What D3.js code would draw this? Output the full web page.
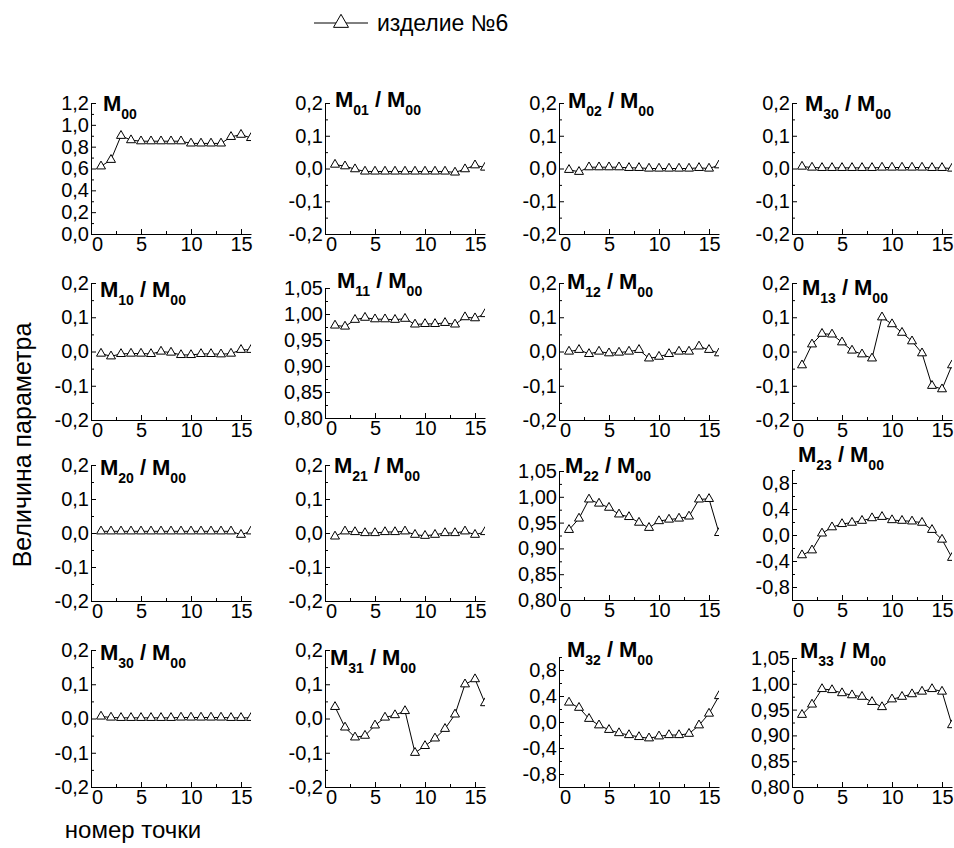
<!DOCTYPE html>
<html><head><meta charset="utf-8">
<script src="https://cdn.jsdelivr.net/npm/d3@7"></script>
<style>body{margin:0;background:#fff}svg text{font-family:"Liberation Sans",Arial,sans-serif}</style>
</head><body><svg id="c" width="954" height="848"></svg>
<script>
// ---------- data ----------
const pointNumbers = [1,2,3,4,5,6,7,8,9,10,11,12,13,14,15,16];
const seriesName = "изделие №6";
const panelTitles = [["00",null],["01","00"],["02","00"],["30","00"],
                     ["10","00"],["11","00"],["12","00"],["13","00"],
                     ["20","00"],["21","00"],["22","00"],["23","00"],
                     ["30","00"],["31","00"],["32","00"],["33","00"]];
const m00 = [0.62,0.68,0.90,0.86,0.85,0.85,0.85,0.85,0.85,0.83,0.83,0.83,0.83,0.89,0.91,0.88];
const m01 = [0.012,0.007,-0.002,-0.009,-0.009,-0.009,-0.009,-0.009,-0.009,-0.009,-0.009,-0.009,-0.012,-0.002,0.010,0.003];
const m02 = [-0.004,-0.010,0.004,0.004,0.004,0.004,0.002,0.002,0.000,0.000,0.000,0.000,0.000,0.002,0.000,0.010];
const m03 = [0.006,0.003,0.002,0.002,0.002,0.002,0.002,0.002,0.003,0.003,0.003,0.003,0.003,0.002,0.002,0.000];
const m10 = [-0.006,-0.014,-0.007,-0.006,-0.006,-0.007,0.000,-0.003,-0.010,-0.010,-0.007,-0.007,-0.008,-0.006,0.005,0.005];
const m11 = [0.978,0.976,0.989,0.993,0.990,0.990,0.989,0.991,0.980,0.981,0.981,0.983,0.980,0.994,0.992,1.000];
const m12 = [0.000,0.005,-0.007,0.000,-0.005,-0.003,0.000,0.005,-0.020,-0.015,-0.007,0.000,0.000,0.015,0.005,-0.005];
const m13 = [-0.040,0.021,0.052,0.050,0.027,0.003,-0.008,-0.020,0.100,0.080,0.055,0.030,-0.005,-0.100,-0.110,-0.040];
const m20 = [0.005,0.005,0.005,0.005,0.005,0.005,0.005,0.005,0.005,0.005,0.005,0.005,0.005,0.005,-0.005,0.005];
const m21 = [-0.010,0.005,0.003,0.000,0.000,0.003,0.003,0.005,-0.005,-0.008,-0.005,0.000,0.000,0.005,-0.005,0.003];
const m22 = [0.936,0.958,0.995,0.987,0.979,0.966,0.961,0.950,0.940,0.953,0.956,0.958,0.962,0.995,0.996,0.930];
const m23 = [-0.31,-0.235,0.025,0.12,0.17,0.19,0.22,0.26,0.28,0.23,0.22,0.21,0.19,0.08,-0.07,-0.35];
const m30 = [0.006,0.003,0.002,0.002,0.002,0.002,0.002,0.002,0.003,0.003,0.003,0.003,0.003,0.002,0.002,0.002];
const m31 = [0.034,-0.026,-0.055,-0.050,-0.020,0.003,0.010,0.022,-0.100,-0.080,-0.058,-0.030,0.012,0.100,0.115,0.045];
const m32 = [0.30,0.22,0.05,-0.05,-0.12,-0.17,-0.20,-0.23,-0.25,-0.22,-0.20,-0.20,-0.18,-0.05,0.13,0.40];
const m33 = [0.940,0.960,0.990,0.988,0.982,0.978,0.975,0.965,0.955,0.970,0.975,0.980,0.985,0.990,0.985,0.920];
const allSeries = [m00,m01,m02,m03,m10,m11,m12,m13,m20,m21,m22,m23,m30,m31,m32,m33];

const xTicks = [0,5,10,15];
const xMinor = [2.5,7.5,12.5];
const ticksSmall = [-0.2,-0.1,0,0.1,0.2];
const ticksM00 = [0,0.2,0.4,0.6,0.8,1.0,1.2];
const ticksDiag = [0.80,0.85,0.90,0.95,1.00,1.05];
const ticksWide = [-0.8,-0.4,0,0.4,0.8];

// ---------- layout ----------
const colX = [91,325,559,792];
const plotW = 160;
const panelKind = ["m00","s","s","s","s","d","s","s","s","s","d","w","s","s","w","d"];
const rowTopBottom = [[103,234],[283,420],[465,601],[650,787]];
const kinds = {
  m00:{domain:[0,1.2],ticks:ticksM00,minorStep:0.1,fmt:d3.format(".1f")},
  s:{domain:[-0.2,0.2],ticks:ticksSmall,minorStep:0.05,fmt:d3.format(".1f")},
  d:{domain:[0.80,1.05],ticks:ticksDiag,minorStep:0.025,fmt:d3.format(".2f")},
  w:{domain:[-1.0,1.0],ticks:ticksWide,minorStep:0.2,fmt:d3.format(".1f")}
};
const override = {5:[288,418],10:[471,600],11:[470,600],14:[657,787],15:[658,787]};
const titleOff = [[12,8],[10,4],[9,5],[13,8],[9,14],[12,0],[8,6],[10,12],
                  [9,10],[9,8],[6,2],[6,-8],[9,10],[5,15],[8,0],[8,0]];

const svg = d3.select("#c");
const font = '"Liberation Sans",Arial,sans-serif';

function tri(size){ const h=size*0.87; return `M0,${-h*2/3}L${size/2},${h/3}L${-size/2},${h/3}Z`; }

allSeries.forEach((vals,i)=>{
  const r = Math.floor(i/4), c = i%4;
  const k = kinds[panelKind[i]];
  const [top,bottom] = override[i] || rowTopBottom[r];
  const x0 = colX[c];
  const x = d3.scaleLinear().domain([0,16]).range([x0,x0+plotW]);
  const y = d3.scaleLinear().domain(k.domain).range([bottom,top]);
  const g = svg.append("g");
  const cid = "clip"+i;
  svg.append("clipPath").attr("id",cid).append("rect")
    .attr("x",x0).attr("y",top-30).attr("width",plotW).attr("height",bottom-top+60);

  const fmt = v => k.fmt(v).replace(".",",").replace("−","-");
  g.append("g").attr("transform",`translate(${x0},0)`)
    .call(d3.axisLeft(y).tickValues(k.ticks).tickSizeInner(-5).tickSizeOuter(0).tickPadding(2).tickFormat(fmt));
  const minor = [];
  for(let v=k.domain[0]; v<=k.domain[1]+1e-9; v+=k.minorStep){
    const vv=+v.toFixed(4); if(!k.ticks.some(t=>Math.abs(t-vv)<1e-6)) minor.push(vv);
  }
  g.append("g").attr("transform",`translate(${x0},0)`)
    .call(d3.axisLeft(y).tickValues(minor).tickSizeInner(-3).tickSizeOuter(0).tickFormat(""))
    .select(".domain").remove();
  const xa = g.append("g").attr("transform",`translate(0,${bottom})`)
    .call(d3.axisBottom(x).tickValues(xTicks).tickSizeInner(-5).tickSizeOuter(0).tickPadding(3).tickFormat(d3.format("d")));
  g.append("g").attr("transform",`translate(0,${bottom})`)
    .call(d3.axisBottom(x).tickValues(xMinor).tickSizeInner(-3).tickSizeOuter(0).tickFormat(""))
    .select(".domain").remove();
  g.selectAll(".tick text").attr("font-size",20).attr("font-family",font).attr("fill","#000");
  g.selectAll(".domain,.tick line").attr("stroke","#000").attr("stroke-width",1);
  xa.selectAll(".tick text").attr("dy","0.72em").attr("dx",d=>d===0?6:0);

  const pg = g.append("g").attr("clip-path",`url(#${cid})`);
  pg.append("path").datum(vals)
    .attr("d",d3.line().x((d,j)=>x(pointNumbers[j])).y(d=>y(d)))
    .attr("fill","none").attr("stroke","#000").attr("stroke-width",1);
  pg.selectAll("path.m").data(vals).join("path").attr("class","m")
    .attr("transform",(d,j)=>`translate(${x(pointNumbers[j])},${y(d)})`)
    .attr("d",tri(9)).attr("fill","#fff").attr("stroke","#000").attr("stroke-width",1);

  const [a,b] = panelTitles[i];
  const [tdx,tdy] = titleOff[i];
  const t = g.append("text").attr("x",x0+tdx).attr("y",top+tdy)
    .attr("font-size",22).attr("font-weight","bold").attr("font-family",font);
  t.append("tspan").text("M");
  t.append("tspan").text(a).attr("font-size",14).attr("dy",8);
  if(b){
    t.append("tspan").text("/").attr("dx",6).attr("dy",-8);
    t.append("tspan").text("M").attr("dx",6);
    t.append("tspan").text(b).attr("font-size",14).attr("dy",8);
  }
});

svg.append("text").attr("transform","translate(31,445) rotate(-90)").attr("text-anchor","middle")
  .attr("font-size",25).attr("font-family",font).text("Величина параметра");
svg.append("text").attr("x",133).attr("y",838).attr("text-anchor","middle")
  .attr("font-size",24).attr("font-family",font).text("номер точки");

const lg = svg.append("g");
lg.append("line").attr("x1",314).attr("x2",368).attr("y1",23).attr("y2",23).attr("stroke","#000");
lg.append("path").attr("transform","translate(341,23)").attr("d",tri(15)).attr("fill","#fff").attr("stroke","#000");
lg.append("text").attr("x",377).attr("y",31).attr("font-size",23).attr("font-family",font).text(seriesName);
</script></body></html>
